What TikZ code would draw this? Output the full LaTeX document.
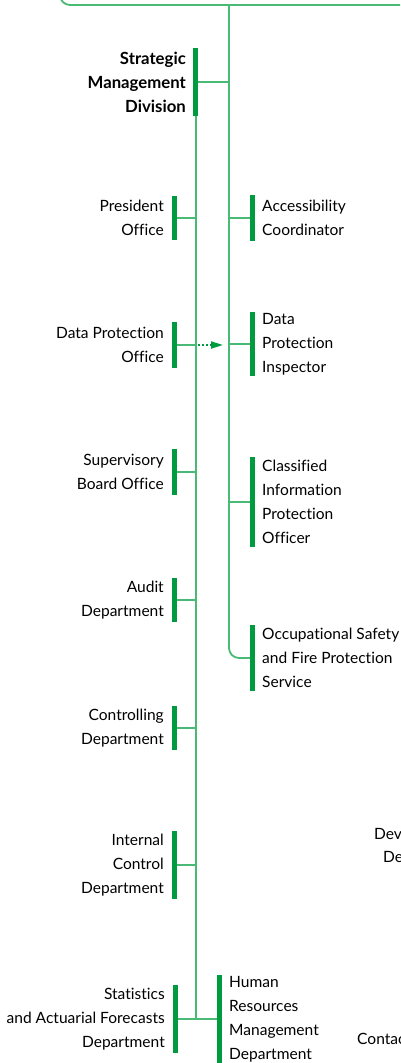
\documentclass[tikz,border=0pt]{standalone}
\usepackage{fontspec}
\setmainfont{Lato}[Ligatures=CommonOff]
\usetikzlibrary{arrows.meta}
\definecolor{barg}{RGB}{0,155,62}
\definecolor{lineg}{RGB}{72,186,116}
\begin{document}
\begin{tikzpicture}[x=1bp,y=-1bp,
  bar/.style={fill=barg, draw=none, minimum width=5bp, inner sep=0pt, outer sep=0pt},
  link/.style={draw=lineg, line width=1.8bp},
  lbl/.style={font=\fontsize{15.6}{24}\selectfont, inner sep=0pt, text=black},
  lleft/.style={lbl, anchor=east, align=right},
  lright/.style={lbl, anchor=west, align=left},
  dotarrow/.style={draw=barg, line width=1.8bp, dash pattern=on 2bp off 2bp, -{Triangle[length=12bp,width=7bp]}}]
\useasboundingbox (0,0) rectangle (400,1063);
\clip (0,0) rectangle (400,1063);

% top box (partly outside)
\node[draw=lineg, line width=1.8bp, rounded corners=10bp, minimum width=420bp, minimum height=60bp,
      inner sep=0pt, outer sep=0pt, anchor=south west] (topbox) at (60,5) {};

% trunk coordinates
\coordinate (rtrunk) at (229,0);
\coordinate (ltrunk) at (196,0);

% Strategic Management Division
\node[bar, minimum height=68bp] (strat) at (195.5,82) {};
\node[lleft, font=\fontsize{16.8}{24}\selectfont\bfseries] (stratL) at ([xshift=-7bp]strat.west) {Strategic\\Management\\Division};

% left bars
\node[bar, minimum height=44bp] (pres) at (174.5,218) {};
\node[bar, minimum height=46bp] (dpo)  at (174.5,345) {};
\node[bar, minimum height=46bp] (sbo)  at (174.5,472) {};
\node[bar, minimum height=44bp] (aud)  at (174.5,600) {};
\node[bar, minimum height=44bp] (ctl)  at (174.5,728) {};
\node[bar, minimum height=68bp] (icd)  at (174.5,865) {};
\node[bar, minimum height=68bp] (stat) at (175.5,1019) {};

\node[lleft] (presL) at ([xshift=-8bp]pres.west) {President\\Office};
\node[lleft] (dpoL)  at ([xshift=-8bp]dpo.west)  {Data Protection\\Office};
\node[lleft] (sboL)  at ([xshift=-8bp]sbo.west)  {Supervisory\\Board Office};
\node[lleft] (audL)  at ([xshift=-8bp]aud.west)  {Audit\\Department};
\node[lleft] (ctlL)  at ([xshift=-8bp]ctl.west)  {Controlling\\Department};
\node[lleft] (icdL)  at ([xshift=-8bp]icd.west)  {Internal\\Control\\Department};
\node[lleft] (statL) at ([xshift=-8bp]stat.west) {Statistics\\and Actuarial Forecasts\\Department};

% right bars
\node[bar, minimum height=46bp] (acc)  at (252.5,218) {};
\node[bar, minimum height=64bp] (dpi)  at (252.5,344) {};
\node[bar, minimum height=90bp] (cipo) at (252.5,502) {};
\node[bar, minimum height=66bp] (osfp) at (252.5,658) {};
\node[bar, minimum height=88bp] (hr)   at (219.5,1019) {};

\node[lright] (accL)  at ([xshift=7bp]acc.east)  {Accessibility\\Coordinator};
\node[lright] (dpiL)  at ([xshift=7bp]dpi.east)  {Data\\Protection\\Inspector};
\node[lright] (cipoL) at ([xshift=7bp]cipo.east) {Classified\\Information\\Protection\\Officer};
\node[lright] (osfpL) at ([xshift=7bp]osfp.east) {Occupational Safety\\and Fire Protection\\Service};
\node[lright] (hrL)   at ([xshift=7bp]hr.east)   {Human\\Resources\\Management\\Department};

% partial labels at right edge
\node[lbl, anchor=west] (devA) at (374,834) {Dev};
\node[lbl, anchor=west] (devB) at (383,857) {De};
\node[lbl, anchor=west] (cont) at (357,1039) {Contac};

% right trunk
\draw[link, rounded corners=10bp] (rtrunk |- topbox.south) |- (osfp.west);
\draw[link] (strat.east) -- (rtrunk |- strat.east);
\draw[link] (rtrunk |- acc.west) -- (acc.west);
\draw[link] (rtrunk |- dpi.west) -- (dpi.west);
\draw[link] (rtrunk |- cipo.west) -- (cipo.west);

% left trunk
\draw[link] (ltrunk |- strat.south) -- (ltrunk |- stat.east);
\draw[link] (pres.east) -- (ltrunk |- pres.east);
\draw[link] (dpo.east) -- (ltrunk |- dpo.east);
\draw[link] (sbo.east) -- (ltrunk |- sbo.east);
\draw[link] (aud.east) -- (ltrunk |- aud.east);
\draw[link] (ctl.east) -- (ltrunk |- ctl.east);
\draw[link] (icd.east) -- (ltrunk |- icd.east);
\draw[link] (stat.east) -- (hr.west);

% dotted relation
\coordinate (dpStart) at ([xshift=2bp]ltrunk |- dpo.east);
\coordinate (dpEnd) at ([xshift=-6bp]rtrunk |- dpo.east);
\draw[dotarrow] (dpStart) -- (dpEnd);
\end{tikzpicture}
\end{document}
